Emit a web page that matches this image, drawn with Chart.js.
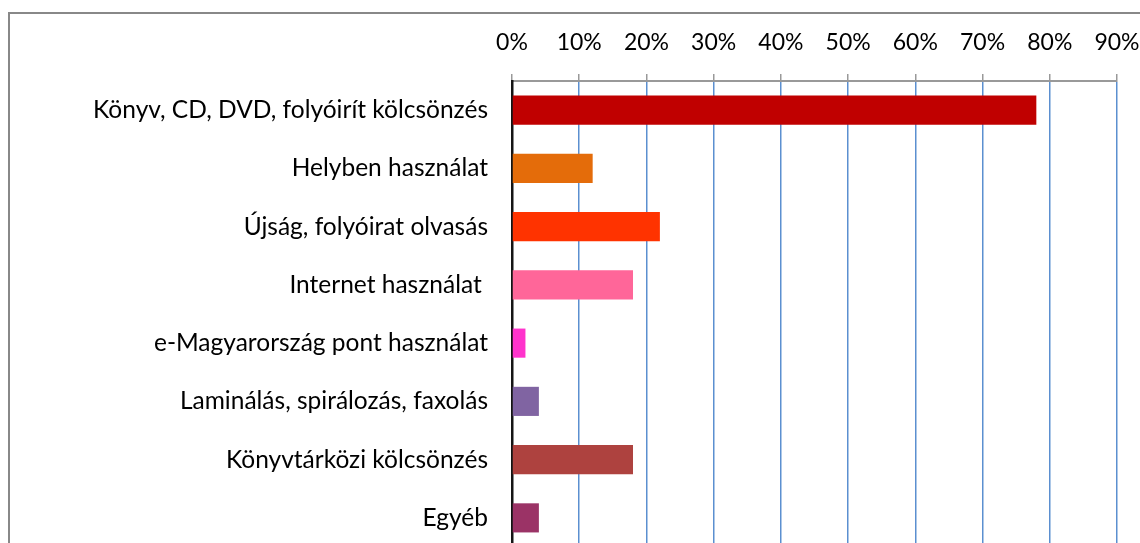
<!DOCTYPE html>
<html>
<head>
<meta charset="utf-8">
<script src="https://cdn.jsdelivr.net/npm/chart.js@4"></script>
<style>
  html, body { margin:0; padding:0; background:#fff; overflow:hidden; width:1140px; height:543px; }
  #clip { position:absolute; left:0; top:0; width:1140px; height:543px; overflow:hidden; }
  #frame { position:absolute; left:8px; top:12px; width:1200px; height:600px; border:2px solid #888; box-sizing:border-box; }
  #c { position:absolute; left:0; top:0; }
</style>
</head>
<body>
<div id="clip">
<div id="frame"></div>
<canvas id="c" width="1140" height="560" style="width:1140px;height:560px"></canvas>
</div>
<script>
const categories = [
  "Könyv, CD, DVD, folyóirít kölcsönzés",
  "Helyben használat",
  "Újság, folyóirat olvasás",
  "Internet használat ",
  "e-Magyarország pont használat",
  "Laminálás, spirálozás, faxolás",
  "Könyvtárközi kölcsönzés",
  "Egyéb"
];
const values = [78, 12, 22, 18, 2, 4, 18, 4];
const xTickValues = [0, 10, 20, 30, 40, 50, 60, 70, 80, 90];
const barColors = ["#C00000", "#E46C0A", "#FF3300", "#FF6699", "#FF33CC", "#8064A2", "#AE423F", "#9B3366"];

const XFONT = { family: "Lato, 'Open Sans', sans-serif", size: 23 };
const YFONT = { family: "Lato, 'Open Sans', sans-serif", size: 24.5 };

function noPad(s) { s.paddingTop = 0; s.paddingBottom = 0; s.paddingLeft = 0; s.paddingRight = 0; }

new Chart(document.getElementById('c'), {
  type: 'bar',
  data: {
    labels: categories,
    datasets: [{
      data: values,
      backgroundColor: barColors,
      borderWidth: 0,
      barPercentage: 0.5,
      categoryPercentage: 1.0
    }]
  },
  options: {
    indexAxis: 'y',
    responsive: false,
    animation: false,
    devicePixelRatio: 1,
    layout: { padding: { top: 0, right: 23, bottom: 13, left: 0 } },
    plugins: { legend: { display: false }, tooltip: { enabled: false } },
    scales: {
      x: {
        position: 'top',
        min: 0, max: 90,
        afterBuildTicks: s => { s.ticks = xTickValues.map(v => ({ value: v })); },
        afterFit: s => { s.height = 81; noPad(s); },
        ticks: { color: '#000', font: XFONT, padding: 18, maxRotation: 0, callback: v => v + '%' },
        grid: {
          color: ctx => ctx.index === 0 ? 'rgba(0,0,0,0)' : '#5B8FD0',
          lineWidth: 1.5,
          tickColor: '#999',
          tickLength: 7,
          tickWidth: 1.5
        },
        border: { display: true, color: '#999', width: 2 }
      },
      y: {
        afterFit: s => { s.width = 512; noPad(s); },
        ticks: { color: '#000', font: YFONT, padding: 24 },
        grid: { display: false, drawTicks: false },
        border: { display: true, color: '#151515', width: 2.5 }
      }
    }
  }
});
</script>
</body>
</html>
